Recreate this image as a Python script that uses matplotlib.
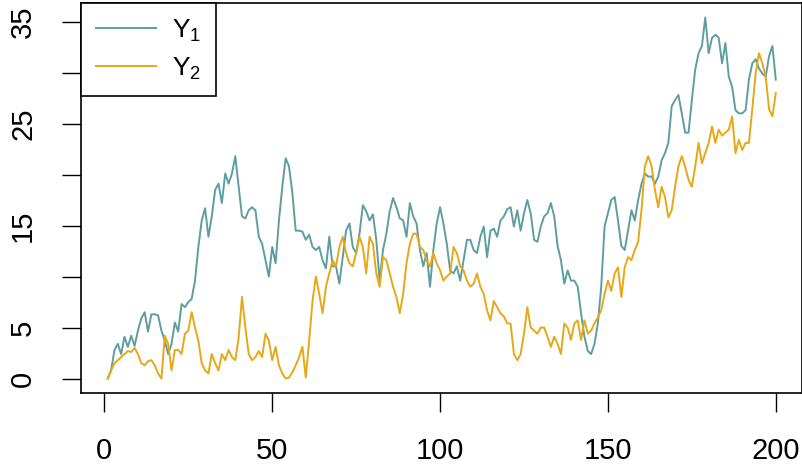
import matplotlib
matplotlib.use("Agg")
import matplotlib.pyplot as plt
import numpy as np

plt.rcParams['font.family'] = ['Liberation Sans', 'DejaVu Sans']
plt.rcParams['mathtext.default'] = 'regular'

# two walks, 200 steps each
y1 = [0.0, 0.8, 2.8, 3.4, 2.4, 4.1, 3.1, 4.2, 3.2, 4.7,
      5.9, 6.5, 4.6, 6.3, 6.3, 6.2, 4.7, 3.7, 2.4, 3.4,
      5.5, 4.6, 7.3, 7.0, 7.5, 7.8, 9.6, 12.9, 15.5, 16.7,
      13.9, 15.9, 18.5, 19.1, 17.2, 20.1, 19.1, 20.1, 21.8, 18.8,
      15.9, 15.7, 16.5, 16.8, 16.5, 13.9, 13.2, 11.6, 10.0, 12.9,
      11.3, 15.5, 18.8, 21.6, 20.8, 18.2, 14.5, 14.5, 14.4, 13.6,
      14.1, 12.9, 12.6, 12.9, 11.6, 10.8, 13.9, 11.0, 11.0, 9.3,
      11.9, 14.5, 15.2, 12.9, 12.3, 14.2, 17.0, 16.4, 15.5, 16.1,
      13.6, 9.6, 12.6, 14.2, 16.4, 17.7, 16.8, 15.7, 15.5, 13.9,
      17.2, 15.9, 15.2, 12.6, 11.0, 12.3, 9.0, 12.6, 15.2, 16.8,
      15.2, 13.2, 10.6, 10.3, 11.0, 9.6, 11.6, 13.6, 13.6, 12.6,
      12.3, 13.9, 14.9, 11.9, 14.5, 14.7, 13.9, 15.5, 15.9, 16.6,
      16.8, 14.9, 16.5, 14.5, 16.2, 17.5, 16.2, 13.6, 13.4, 14.9,
      15.9, 16.2, 17.2, 15.9, 13.0, 11.6, 9.3, 10.6, 9.6, 9.6,
      9.0, 6.4, 4.1, 2.7, 2.4, 3.4, 5.4, 9.0, 14.9, 16.2,
      17.5, 17.8, 15.5, 13.0, 12.6, 14.5, 16.5, 15.5, 17.5, 19.1,
      20.1, 19.8, 19.8, 19.1, 19.8, 21.4, 22.1, 23.1, 26.7, 27.3,
      27.8, 26.0, 24.1, 24.1, 27.3, 30.3, 31.9, 32.6, 35.4, 31.9,
      33.4, 33.7, 33.4, 30.9, 32.9, 29.6, 28.6, 26.3, 26.0, 26.0,
      26.3, 29.3, 30.9, 31.3, 30.4, 29.9, 29.6, 31.6, 32.6, 29.3]

y2 = [0.0, 0.8, 1.5, 1.8, 2.1, 2.4, 2.7, 2.6, 3.0, 2.4,
      1.5, 1.3, 1.7, 1.8, 1.3, 0.5, 0.0, 4.2, 3.4, 0.8,
      2.8, 2.8, 2.4, 4.4, 4.7, 6.5, 5.0, 3.7, 1.5, 0.8,
      0.5, 2.4, 1.5, 0.8, 2.4, 1.8, 2.8, 2.1, 1.8, 4.0,
      8.0, 5.0, 2.4, 1.8, 2.1, 2.7, 2.1, 4.4, 3.7, 1.8,
      3.1, 1.3, 0.5, 0.0, 0.1, 0.6, 1.3, 2.1, 3.1, 0.1,
      3.7, 7.6, 10.0, 8.3, 6.4, 9.0, 10.3, 11.6, 11.0, 12.9,
      13.9, 12.3, 11.3, 11.0, 12.3, 13.9, 12.9, 10.3, 13.9, 13.2,
      10.3, 9.0, 11.9, 11.6, 10.3, 9.0, 8.0, 6.4, 8.3, 11.3,
      13.2, 14.2, 14.2, 12.9, 12.6, 11.6, 11.0, 12.3, 11.3, 10.6,
      9.6, 10.0, 10.3, 12.9, 12.3, 11.0, 10.6, 9.6, 9.0, 9.3,
      10.3, 9.0, 8.3, 6.7, 5.7, 7.6, 7.0, 6.4, 6.1, 5.4,
      5.4, 2.4, 1.8, 2.4, 4.4, 7.0, 5.0, 4.7, 4.4, 5.0,
      5.0, 4.1, 3.1, 4.1, 3.4, 2.4, 5.4, 5.0, 3.8, 5.4,
      5.7, 3.8, 5.7, 4.4, 4.7, 5.4, 6.0, 6.7, 8.3, 9.6,
      8.6, 10.3, 10.9, 8.0, 10.9, 11.9, 11.6, 12.6, 13.4, 16.5,
      20.8, 21.8, 20.8, 18.5, 16.8, 18.8, 17.8, 15.8, 16.5, 18.8,
      20.8, 21.8, 20.8, 19.5, 18.8, 20.8, 23.1, 21.1, 22.1, 23.1,
      24.7, 23.1, 24.4, 23.8, 24.1, 24.4, 25.7, 22.1, 23.4, 22.4,
      23.1, 23.1, 26.4, 29.9, 31.9, 30.9, 29.6, 26.4, 25.7, 28.0]

x = np.arange(1, len(y1) + 1)
col1 = "#5F9EA0"
col2 = "#E6A817"

fig = plt.figure(figsize=(8.03, 4.71), dpi=100)
ax = fig.add_axes([81 / 803, 78 / 471, (802.5 - 81) / 803, (393 - 3) / 471])

ax.plot(x, y1, color=col1, lw=1.4, label="Y$_1$")
ax.plot(x, y2, color=col2, lw=1.4, label="Y$_2$")

# R-like 4% padding around the data
lo = min(min(y1), min(y2))
hi = max(max(y1), max(y2))
ax.set_xlim(1 - 0.04 * 199, 200 + 0.04 * 199)
ax.set_ylim(lo - 0.04 * (hi - lo), hi + 0.04 * (hi - lo))

ax.set_xticks([0, 50, 100, 150, 200])
yt = np.arange(0, 40, 5)
ax.set_yticks(yt)
ax.set_yticklabels([str(v) if v in (0, 5, 15, 25, 35) else "" for v in yt],
                   rotation=90, va="center")
ax.tick_params(length=13.5, width=1.0, pad=18, labelsize=21, color="black")

for s in ax.spines.values():
    s.set_linewidth(1.2)

leg = ax.legend(loc="upper left", borderaxespad=0, fancybox=False,
                edgecolor="black", framealpha=1, fontsize=19,
                handlelength=2.3, handletextpad=0.6, borderpad=0.55,
                labelspacing=0.45)
leg.get_frame().set_linewidth(1.2)

fig.savefig("out.png", dpi=100)
